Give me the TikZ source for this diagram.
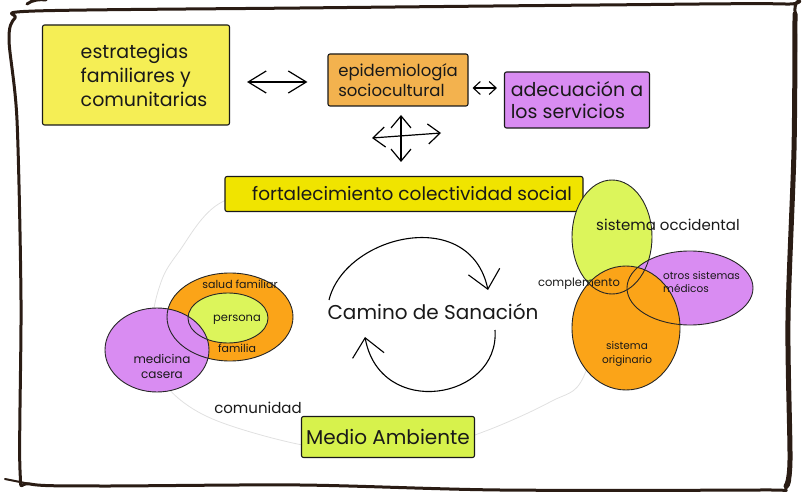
\documentclass[tikz,border=0pt]{standalone}
\usepackage{fontspec}
\setmainfont{Poppins}
\usetikzlibrary{arrows.meta,shapes.geometric}
\definecolor{yelA}{HTML}{F5EE55}
\definecolor{yelB}{HTML}{F0E400}
\definecolor{orgE}{HTML}{F3B24E}
\definecolor{purp}{HTML}{D98CF2}
\definecolor{orgV}{HTML}{FBA418}
\definecolor{grn}{HTML}{DCF55B}
\definecolor{grnM}{HTML}{D7F24C}
\definecolor{framec}{HTML}{2A1C14}
\definecolor{faint}{HTML}{E0E0E0}
\begin{document}
\begin{tikzpicture}[x=1pt,y=-1pt,
  box/.style={draw=black!90, line width=1.1pt, rounded corners=2pt, inner sep=2pt, align=left, text=black!90},
  txt/.style={inner sep=0pt, text=black!90, align=center},
  vline/.style={draw=black!85, line width=0.9pt},
  dblL/.style={{Straight Barb[length=18pt,width=22pt]}-{Straight Barb[length=18pt,width=22pt]}, line width=1.2pt},
  dblS/.style={{Straight Barb[length=7pt,width=13pt]}-{Straight Barb[length=7pt,width=13pt]}, line width=1.1pt},
  dblM/.style={{Straight Barb[length=12pt,width=20pt]}-{Straight Barb[length=12pt,width=20pt]}, line width=1.2pt},
  cyc/.style={-{Straight Barb[length=18pt,width=32pt]}, line width=1.1pt}]
\useasboundingbox (0,0) rectangle (804,500);
% outer frame
\draw[framec, line width=3pt, line join=round] plot[smooth cycle, tension=0.5] coordinates {(35,11) (300,8) (600,5) (785,4) (795,12) (794,150) (788,320) (790,460) (786,488) (760,490) (500,490) (300,485) (100,486) (30,484) (20,470) (21,300) (17,120) (9,40) (15,18)};
\draw[framec, line width=5pt, line cap=round] plot[smooth, tension=0.5] coordinates {(795,14) (794,150) (788,320) (790,460) (786,486)};
\draw[framec, line width=2pt, line cap=round] (30,484) -- (5,479);
\draw[framec, line width=3pt, line cap=round] (27,4) .. controls (32,0) and (40,-1) .. (46,0);
% faint surrounding curve
\draw[faint, line width=0.8pt] plot[smooth cycle, tension=0.6] coordinates {(300,190) (222,202) (178,253) (160,285) (152,330) (162,375) (178,398) (215,420) (280,440) (330,448) (420,450) (483,432) (550,402) (583,378) (600,300) (585,215) (480,192)};
% boxes
\node[box, fill=yelA, minimum width=187pt, minimum height=100pt, font=\fontsize{19}{24}\selectfont] (est) at (136,75) {\hspace*{16pt}estrategias\\\hspace*{16pt}familiares y\\\hspace*{16pt}comunitarias};
\node[box, fill=orgE, minimum width=140pt, minimum height=52pt, font=\fontsize{16.5}{20}\selectfont] (epi) at (398,80) {epidemiología\\sociocultural};
\node[box, fill=purp, minimum width=145pt, minimum height=56pt, font=\fontsize{19}{22}\selectfont] (ade) at (577,100) {adecuación a\\los servicios};
\node[box, fill=yelB, minimum width=358pt, minimum height=35pt, font=\fontsize{18.5}{22}\selectfont] (fort) at (404,194) {\hspace*{16pt}fortalecimiento colectividad social};
\node[box, fill=grnM, minimum width=173pt, minimum height=41pt, inner sep=0pt, font=\fontsize{20}{24}\selectfont] (medio) at (388,437) {Medio Ambiente};
% arrows between boxes
\draw[dblL, shorten <=17pt, shorten >=20pt] ([yshift=-7pt]est.east) -- ([yshift=-2pt]epi.west);
\draw[dblS, shorten <=4pt, shorten >=7pt] ([yshift=-8pt]epi.east) -- ([yshift=12pt]ade.west);
\coordinate (xl) at (372,138);
\coordinate (xr) at (441,133);
\coordinate (xu) at (401,115);
\coordinate (xd) at (401,162);
\draw[dblM] (xl) -- (xr);
\draw[dblM] (xu) -- (xd);
% left Venn
\coordinate (lO) at (230,317);
\coordinate (lG) at (228,318);
\coordinate (lP) at (157,350);
\fill[orgV] (lO) ellipse [x radius=63pt, y radius=44pt];
\fill[grn] (lG) ellipse [x radius=40pt, y radius=25pt];
\fill[purp] (lP) ellipse [x radius=52pt, y radius=42pt];
\draw[vline] (lO) ellipse [x radius=63pt, y radius=44pt];
\draw[vline] (lG) ellipse [x radius=40pt, y radius=25pt];
\draw[vline] (lP) ellipse [x radius=52pt, y radius=42pt];
\node[txt, font=\fontsize{11}{13}\selectfont] (salud) at (240,284) {salud familiar};
\node[txt, font=\fontsize{11.5}{13}\selectfont] (persona) at (237,320) {persona};
\node[txt, font=\fontsize{11}{13}\selectfont] (familia) at (237,348) {familia};
\node[txt, font=\fontsize{12}{15}\selectfont] (medicina) at (162,366) {medicina\\casera};
% right Venn
\coordinate (rG) at (612,237);
\coordinate (rP) at (690,288);
\coordinate (rO) at (626,328);
\fill[grn] (rG) ellipse [x radius=40pt, y radius=57pt];
\fill[purp] (rP) ellipse [x radius=63pt, y radius=37pt];
\fill[orgV] (rO) ellipse [x radius=54pt, y radius=62pt];
\draw[vline] (rG) ellipse [x radius=40pt, y radius=57pt];
\draw[vline] (rP) ellipse [x radius=63pt, y radius=37pt];
\draw[vline] (rO) ellipse [x radius=54pt, y radius=62pt];
\node[txt, font=\fontsize{15}{17}\selectfont] (occ) at (668,225) {sistema occidental};
\node[txt, align=left, anchor=west, font=\fontsize{10.5}{13}\selectfont] (otros) at (663,282) {otros sistemas\\médicos};
\node[txt, font=\fontsize{11.5}{13}\selectfont] (compl) at (579,284) {complemento};
\node[txt, font=\fontsize{10.5}{14}\selectfont] (orig) at (627,354) {sistema\\originario};
% centre
\node[txt, font=\fontsize{20}{24}\selectfont] (cam) at (433,312) {Camino de Sanación};
\coordinate (a1s) at (329,300);
\coordinate (a1e) at (488,290);
\coordinate (a2s) at (495,330);
\coordinate (a2e) at (365,337);
\draw[cyc] (a1s) .. controls (345,235) and (470,205) .. (a1e);
\draw[cyc] (a2s) .. controls (500,400) and (380,420) .. (a2e);
\node[txt, font=\fontsize{15}{17}\selectfont] (comu) at (258,408) {comunidad};
\end{tikzpicture}
\end{document}
